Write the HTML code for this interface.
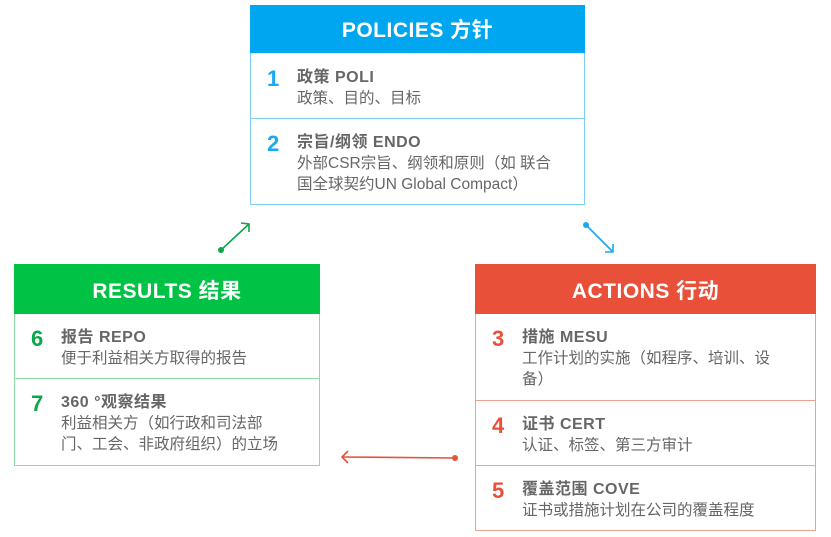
<!DOCTYPE html>
<html><head><meta charset="utf-8"><style>
body{margin:0;width:831px;height:537px;background:#fff;position:relative;overflow:hidden;font-family:"Liberation Sans","Noto Sans CJK SC",sans-serif;}
.box{position:absolute;box-sizing:border-box;}
.hd{position:absolute;left:0;right:0;top:0;color:#fff;font-weight:bold;font-size:21px;text-align:center;letter-spacing:0.5px;}
.row{position:absolute;left:0;right:0;box-sizing:border-box;}
.n{position:absolute;left:16px;top:12px;font-weight:bold;font-size:22px;}
.t{position:absolute;left:46px;top:13px;color:#666;font-size:15.5px;line-height:21px;white-space:nowrap;}
.t b{color:#666;font-size:16px;letter-spacing:0.5px;}
</style></head><body>

<!-- POLICIES -->
<div class="box" style="left:250px;top:5px;width:335px;height:200px;border:1px solid #7fd0f5;">
 <div class="hd" style="background:#00a6f0;height:48px;line-height:52px;left:-1px;right:-1px;top:-1px;">POLICIES 方针</div>
 <div class="row" style="top:48px;height:65px;border-bottom:1px solid #7fd0f5;">
  <div class="n" style="color:#1aa8ee;">1</div>
  <div class="t"><b>政策 POLI</b><br>政策、目的、目标</div>
 </div>
 <div class="row" style="top:113px;height:86px;">
  <div class="n" style="color:#1aa8ee;">2</div>
  <div class="t"><b>宗旨/纲领 ENDO</b><br>外部CSR宗旨、纲领和原则（如 联合<br>国全球契约UN Global Compact）</div>
 </div>
</div>

<!-- RESULTS -->
<div class="box" style="left:14px;top:264px;width:306px;height:202px;border:1px solid #8edba8;">
 <div class="hd" style="background:#00c244;height:50px;line-height:56px;left:-1px;right:-1px;top:-1px;">RESULTS 结果</div>
 <div class="row" style="top:49px;height:65px;border-bottom:1px solid #8edba8;">
  <div class="n" style="color:#0aa84a;">6</div>
  <div class="t"><b>报告 REPO</b><br>便于利益相关方取得的报告</div>
 </div>
 <div class="row" style="top:114px;height:86px;">
  <div class="n" style="color:#0aa84a;">7</div>
  <div class="t"><b>360 °观察结果</b><br>利益相关方（如行政和司法部<br>门、工会、非政府组织）的立场</div>
 </div>
</div>

<!-- ACTIONS -->
<div class="box" style="left:475px;top:264px;width:341px;height:267px;border:1px solid #f0a093;">
 <div class="hd" style="background:#e8503a;height:50px;line-height:56px;left:-1px;right:-1px;top:-1px;">ACTIONS 行动</div>
 <div class="row" style="top:49px;height:87px;border-bottom:1px solid #f0a093;">
  <div class="n" style="color:#e8503a;">3</div>
  <div class="t"><b>措施 MESU</b><br>工作计划的实施（如程序、培训、设<br>备）</div>
 </div>
 <div class="row" style="top:136px;height:65px;border-bottom:1px solid #f0a093;">
  <div class="n" style="color:#e8503a;">4</div>
  <div class="t"><b>证书 CERT</b><br>认证、标签、第三方审计</div>
 </div>
 <div class="row" style="top:201px;height:65px;">
  <div class="n" style="color:#e8503a;">5</div>
  <div class="t"><b>覆盖范围 COVE</b><br>证书或措施计划在公司的覆盖程度</div>
 </div>
</div>

<svg width="831" height="537" style="position:absolute;left:0;top:0;" fill="none" stroke-width="1.6">
 <g stroke="#0aa84a"><line x1="221" y1="250" x2="249" y2="224"/><polyline points="241,223 249,224 249,232"/></g>
 <circle cx="221" cy="250" r="3" fill="#0aa84a"/>
 <g stroke="#1aa8ee"><line x1="586" y1="225" x2="613" y2="252"/><polyline points="605,252 613,252 613,244"/></g>
 <circle cx="586" cy="225" r="3" fill="#1aa8ee"/>
 <g stroke="#e8503a"><line x1="455" y1="458" x2="342" y2="457"/><polyline points="348,451 342,457 348,463"/></g>
 <circle cx="455" cy="458" r="3" fill="#e8503a"/>
</svg>
</body></html>
